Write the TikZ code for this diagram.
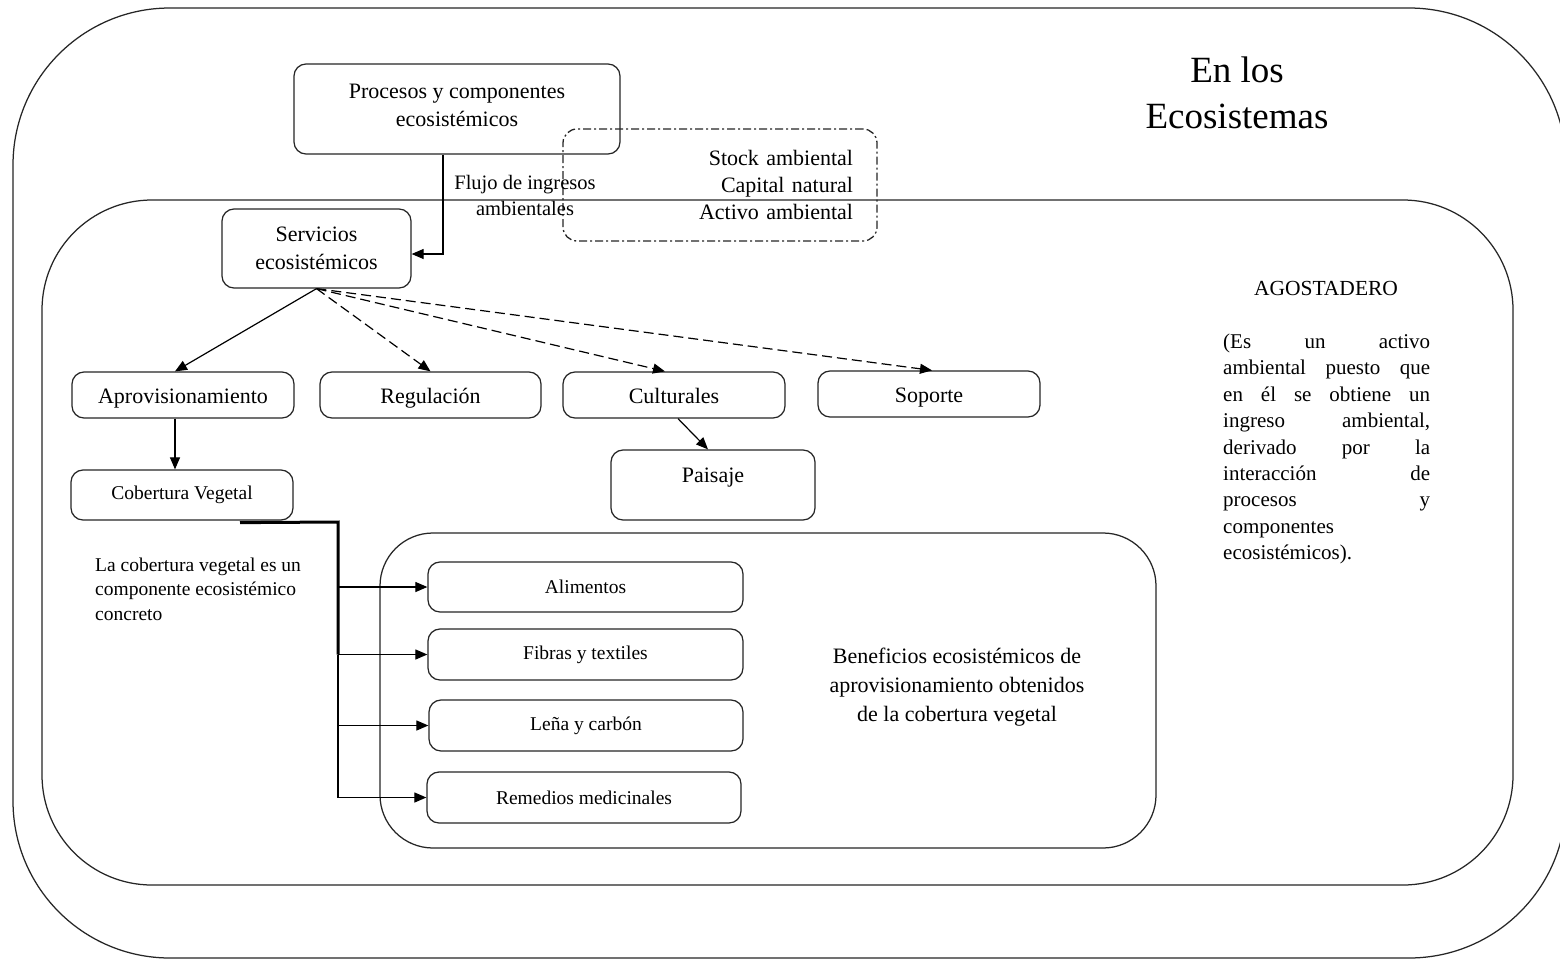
\documentclass[tikz,border=0pt]{standalone}
\usepackage{fontspec}
\setmainfont{Liberation Serif}
\usetikzlibrary{arrows.meta}
\begin{document}
\begin{tikzpicture}[x=1pt,y=-1pt,
  line/.style={line width=1.25pt, draw=black!85},
  box/.style={line, rounded corners=12pt, inner sep=0pt, align=center},
  fbig/.style={font=\fontsize{22}{28}\selectfont},
  fsmall/.style={font=\fontsize{19.5}{24.5}\selectfont},
  one/.style={text height=16pt, text depth=0pt},
  arr/.style={line width=1.2pt, -{Triangle[length=12pt,width=10pt]}},
  darr/.style={arr, dash pattern=on 10pt off 5pt},
  dashdot/.style={line width=1.3pt, draw=black!85, dash pattern=on 8pt off 3pt on 2pt off 3pt, rounded corners=14pt},
]
\clip (0,0) rectangle (1560,961);
\fill[white] (0,0) rectangle (1560,961);
% containers
\draw[line, rounded corners=157pt] (13,8) rectangle (1566,958);
\draw[line, rounded corners=110pt] (42,200) rectangle (1513,885);
\draw[line, rounded corners=53pt] (380,533) rectangle (1156,848);

% title
\node[font=\fontsize{37}{46}\selectfont, align=center] (title) at (1237,93) {En los\\Ecosistemas};

% top boxes
\node[box, minimum width=326, minimum height=90] (proc) at (457,109) {};
\node[fbig, align=center] (proct) at (457,105) {Procesos y componentes\\ecosistémicos};
\node[dashdot, inner sep=0pt, minimum width=314, minimum height=112, text width=266, align=right, font=\fontsize{22}{27}\selectfont] (stock) at (720,185) {Stock ambiental\\Capital natural\\Activo ambiental};
\node[font=\fontsize{20.5}{26}\selectfont, align=center] (flujo) at (525,195) {Flujo de ingresos\\ambientales};
\node[box, fbig, minimum width=189, minimum height=79] (serv) at (316.5,248.5) {Servicios\\ecosistémicos};

% row of service types
\node[box, fbig, one, minimum width=222, minimum height=46] (aprov) at (183,395) {Aprovisionamiento};
\node[box, fbig, one, minimum width=221, minimum height=46] (reg) at (430.5,395) {Regulación};
\node[box, fbig, one, minimum width=222, minimum height=46] (cult) at (674,395) {Culturales};
\node[box, fbig, one, minimum width=222, minimum height=46] (sop) at (929,394) {Soporte};

\node[box, minimum width=204, minimum height=70] (pais) at (713,485) {};
\node[fbig] (paist) at (713,478) {Paisaje};

\node[box, fsmall, minimum width=222, minimum height=50] (cob) at (182,495) {Cobertura Vegetal};

% benefits
\node[box, fsmall, minimum width=315, minimum height=50] (alim) at (585.5,587) {Alimentos};
\node[box, fsmall, minimum width=315, minimum height=51] (fib) at (585.5,654.5) {Fibras y textiles};
\node[box, fsmall, minimum width=314, minimum height=51] (lena) at (586,725.5) {Leña y carbón};
\node[box, fsmall, minimum width=314, minimum height=51] (rem) at (584,797.5) {Remedios medicinales};

\node[font=\fontsize{22}{29}\selectfont, align=center] (benef) at (957,687) {Beneficios ecosistémicos de\\aprovisionamiento obtenidos\\de la cobertura vegetal};

\node[fsmall, align=left, anchor=west, inner sep=0pt] (cobtxt) at (95,589) {La cobertura vegetal es un\\componente ecosistémico\\concreto};

% agostadero
\node[font=\fontsize{21.5}{26}\selectfont] (agos) at (1326,288) {AGOSTADERO};
\node[font=\fontsize{21}{26.4}\selectfont, align=left, anchor=west, inner sep=0pt] (parr) at (1223,449) {%
\makebox[207pt][s]{(Es un activo}\\
\makebox[207pt][s]{ambiental puesto que}\\
\makebox[207pt][s]{en él se obtiene un}\\
\makebox[207pt][s]{ingreso ambiental,}\\
\makebox[207pt][s]{derivado por la}\\
\makebox[207pt][s]{interacción de}\\
\makebox[207pt][s]{procesos y}\\
componentes\\
ecosistémicos).};

% connectors
\draw[arr] ([xshift=-14pt]proc.south) |- ([yshift=-5.5pt]serv.east);
\draw[arr] (serv.south) -- ([xshift=-8pt]aprov.north);
\draw[darr] (serv.south) -- (reg.north);
\draw[darr] (serv.south) -- ([xshift=-9pt]cult.north);
\draw[darr] (serv.south) -- ([xshift=3pt]sop.north);
\draw[arr] ([xshift=4pt]cult.south) -- ([xshift=-5pt]pais.north);
\draw[arr] ([xshift=-8pt]aprov.south) -- ([xshift=-7pt]cob.north);

\coordinate (bus) at (338,522);
\draw[line width=3pt] ([xshift=58pt,yshift=-2pt]cob.south) -- (bus) -- (bus |- fib.west);
\draw[line width=1.6pt] (bus |- fib.west) -- (bus |- rem.west);
\draw[arr] (bus |- alim.west) -- (alim.west);
\draw[arr] (bus |- fib.west) -- (fib.west);
\draw[arr] (bus |- lena.west) -- (lena.west);
\draw[arr] (bus |- rem.west) -- (rem.west);
\end{tikzpicture}
\end{document}
